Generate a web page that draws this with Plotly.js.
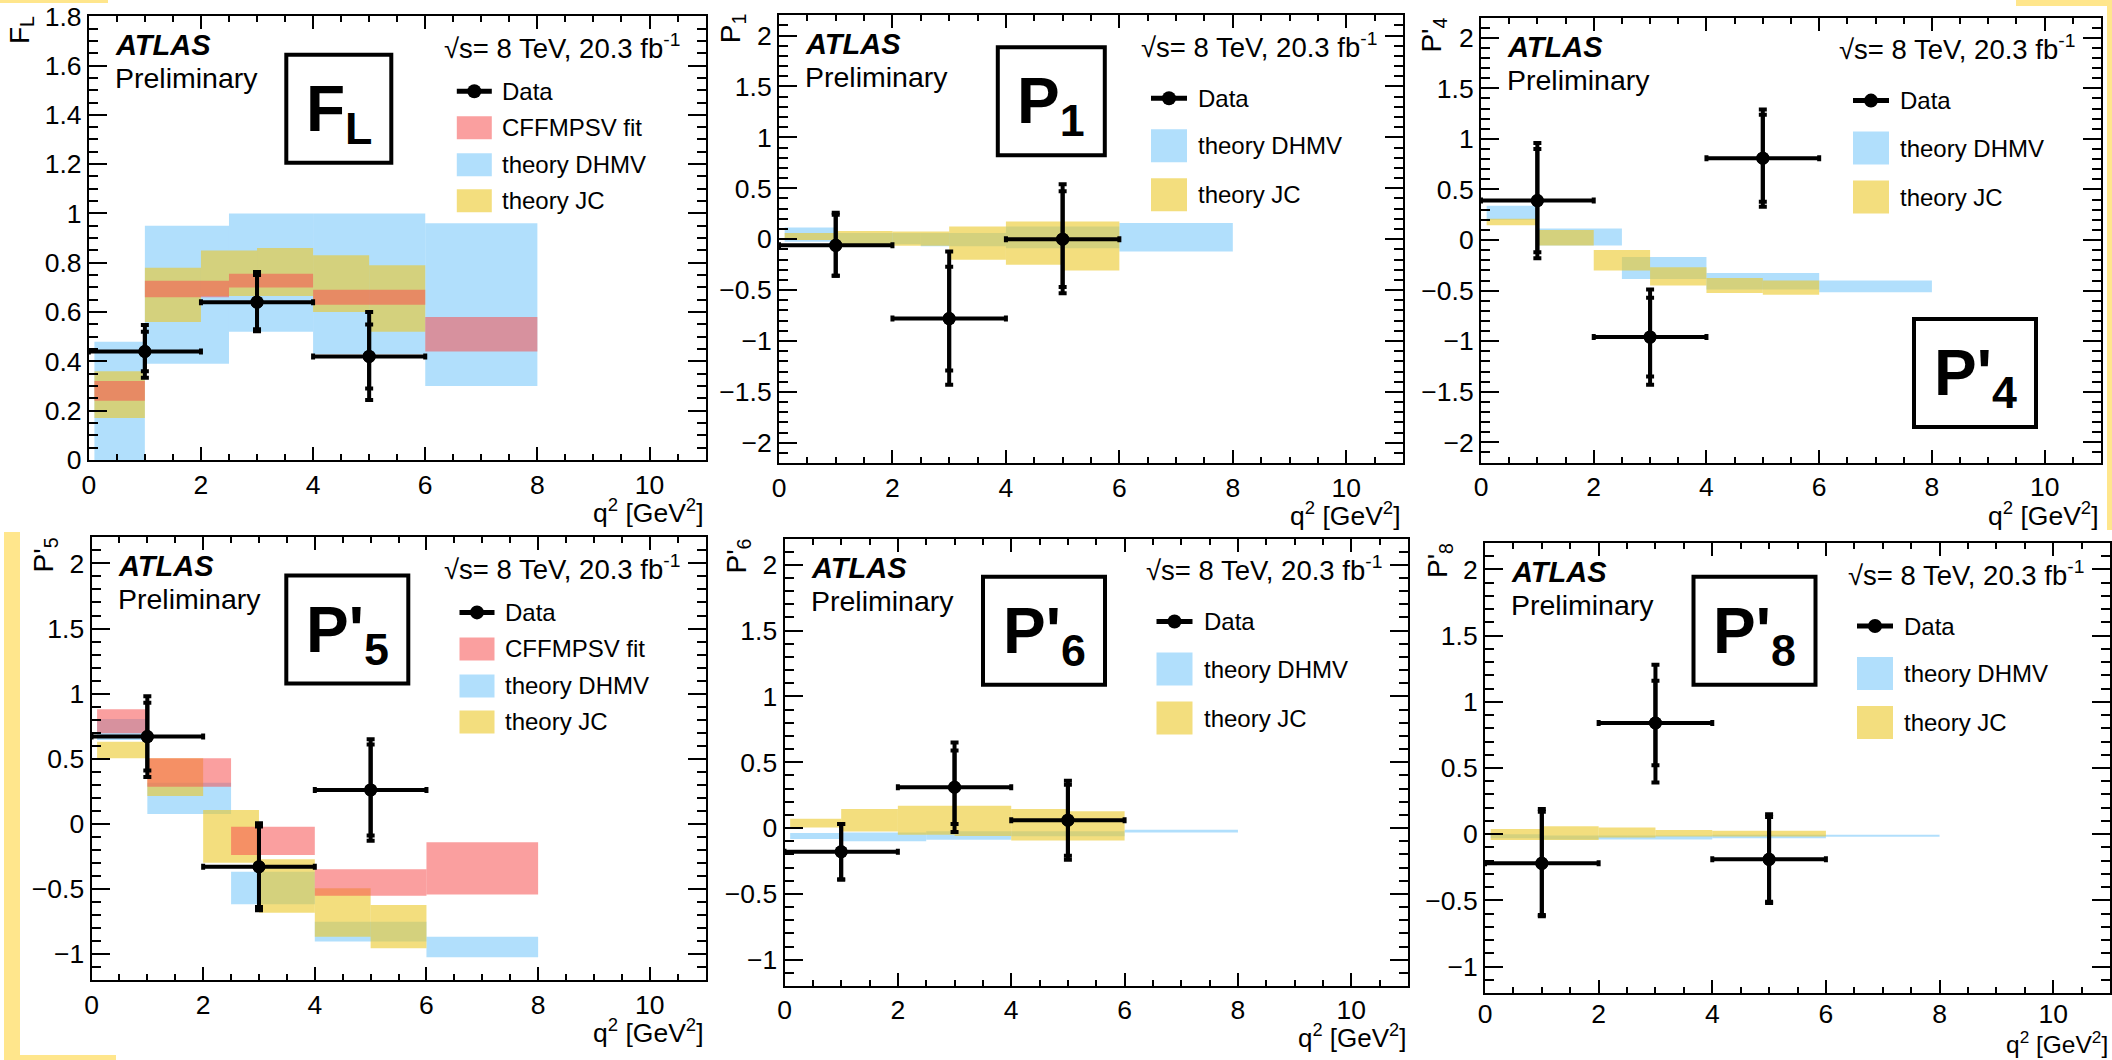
<!DOCTYPE html>
<html><head><meta charset="utf-8">
<script src="https://cdn.plot.ly/plotly-3.0.1.min.js"></script>
<style>html,body{margin:0;padding:0;background:#fff}</style>
</head><body><div id="chart" style="width:2112px;height:1060px"></div>
<script>
// ---------------- DATA ----------------
const xData = [1, 3, 5];
const xDataHalf = [1, 1, 1];
const binLoWide = [0.1, 1, 2.5, 4, 6];
const binHiWide = [1, 2.5, 4, 6, 8];
const binLoJC = [0.1, 1, 2, 3, 4, 5];
const binHiJC = [1, 2, 3, 4, 5, 6];

// F_L
const FL_val = [0.44, 0.64, 0.42];
const FL_totUp = [0.107, 0.122, 0.18];
const FL_totDn = [0.106, 0.118, 0.177];
const FL_stat = [0.08, 0.11, 0.13];
const FL_dhmvLo = [0, 0.39, 0.52, 0.43, 0.30];
const FL_dhmvHi = [0.48, 0.95, 1.0, 1.0, 0.96];
const FL_jcLo = [0.17, 0.56, 0.665, 0.665, 0.60, 0.52];
const FL_jcHi = [0.36, 0.78, 0.85, 0.86, 0.83, 0.79];
const FL_cffLo = [0.24, 0.66, 0.70, 0.63, 0.44];
const FL_cffHi = [0.32, 0.727, 0.755, 0.69, 0.58];

// P1
const P1_val = [-0.06, -0.78, 0.00];
const P1_totUp = [0.32, 0.66, 0.54];
const P1_totDn = [0.30, 0.65, 0.53];
const P1_stat = [0.30, 0.51, 0.47];
const P1_dhmvLo = [-0.026, -0.05, -0.07, -0.09, -0.12];
const P1_dhmvHi = [0.114, 0.06, 0.06, 0.124, 0.16];
const P1_jcLo = [-0.007, -0.056, -0.065, -0.203, -0.25, -0.308];
const P1_jcHi = [0.06, 0.081, 0.075, 0.124, 0.173, 0.173];

// P'4
const P4_val = [0.39, -0.96, 0.81];
const P4_totUp = [0.57, 0.47, 0.48];
const P4_totDn = [0.57, 0.47, 0.48];
const P4_stat = [0.51, 0.39, 0.43];
const P4_dhmvLo = [0.20, -0.055, -0.385, -0.49, -0.517];
const P4_dhmvHi = [0.34, 0.113, -0.167, -0.325, -0.40];
const P4_jcLo = [0.146, -0.055, -0.30, -0.45, -0.524, -0.54];
const P4_jcHi = [0.21, 0.10, -0.098, -0.27, -0.375, -0.40];

// P'5
const P5_val = [0.67, -0.33, 0.26];
const P5_totUp = [0.31, 0.335, 0.39];
const P5_totDn = [0.31, 0.335, 0.39];
const P5_stat = [0.26, 0.31, 0.35];
const P5_dhmvLo = [0.644, 0.075, -0.618, -0.905, -1.026];
const P5_dhmvHi = [0.805, 0.316, -0.368, -0.752, -0.867];
const P5_jcLo = [0.503, 0.213, -0.30, -0.683, -0.867, -0.957];
const P5_jcHi = [0.631, 0.503, 0.106, -0.273, -0.496, -0.624];
const P5_cffLo = [0.695, 0.285, -0.24, -0.552, -0.544];
const P5_cffHi = [0.879, 0.503, -0.022, -0.35, -0.142];

// P'6
const P6_val = [-0.18, 0.31, 0.06];
const P6_totUp = [0.21, 0.34, 0.30];
const P6_totDn = [0.21, 0.34, 0.30];
const P6_stat = [0.21, 0.28, 0.27];
const P6_dhmvLo = [-0.084, -0.10, -0.089, -0.063, -0.033];
const P6_dhmvHi = [-0.038, -0.033, -0.025, -0.025, -0.013];
const P6_jcLo = [0.005, -0.026, -0.051, -0.06, -0.094, -0.094];
const P6_jcHi = [0.071, 0.144, 0.169, 0.169, 0.144, 0.127];

// P'8
const P8_val = [-0.22, 0.84, -0.19];
const P8_totUp = [0.41, 0.44, 0.34];
const P8_totDn = [0.40, 0.45, 0.33];
const P8_stat = [0.39, 0.32, 0.32];
const P8_dhmvLo = [-0.03, -0.04, -0.04, -0.03, -0.02];
const P8_dhmvHi = [0.0, -0.01, -0.01, -0.005, -0.005];
const P8_jcLo = [-0.044, -0.044, -0.025, -0.018, -0.018, -0.018];
const P8_jcHi = [0.039, 0.06, 0.05, 0.032, 0.025, 0.025];

const legendNames = ['Data', 'CFFMPSV fit', 'theory DHMV', 'theory JC'];
const xTitle = 'q<sup>2</sup> [GeV<sup>2</sup>]';
const atlasText = '<b><i>ATLAS</i></b>';
const prelimText = 'Preliminary';
const energyText = '\u221As= 8 TeV, 20.3 fb<sup>-1</sup>';

// ---------------- STYLE / LAYOUT ----------------
const W = 2112, H = 1060;
const FONT = 'Liberation Sans, Arial, Helvetica, sans-serif';
const C_BLUE = 'rgba(135,206,250,0.65)';
const C_YEL = 'rgba(235,200,40,0.6)';
const C_RED = 'rgba(245,80,80,0.55)';

const panels = [
  {s:'', frame:[88.8,16.2,705.6,460], yr:[-1e-4,1.8001], dt:0.2, mdt:0.05, ytitle:'F<sub>L</sub>', ytx:-68, yty:14, xty:51, xts:26.5, xso:0,
   label:'<b>F<sub>L</sub></b>', box:[197.5,38.6,105,108],
   val:FL_val, up:FL_totUp, dn:FL_totDn, st:FL_stat, dLo:FL_dhmvLo, dHi:FL_dhmvHi, jLo:FL_jcLo, jHi:FL_jcHi, cLo:FL_cffLo, cHi:FL_cffHi},
  {s:'2', frame:[779,15.2,1403,463.2], yr:[-2.2,2.2], dt:0.5, mdt:0.1, ytitle:'P<sub>1</sub>', ytx:-47, yty:13, xty:51, xts:26.5, xso:0,
   label:'<b>P<sub>1</sub></b>', box:[218.8,32,107,108],
   val:P1_val, up:P1_totUp, dn:P1_totDn, st:P1_stat, dLo:P1_dhmvLo, dHi:P1_dhmvHi, jLo:P1_jcLo, jHi:P1_jcHi},
  {s:'3', frame:[1481,17.6,2101,462.5], yr:[-2.2,2.2], dt:0.5, mdt:0.1, ytitle:"P'<sub>4</sub>", ytx:-47, yty:18, xty:51, xts:26.5, xso:0,
   label:"<b>P'<sub>4</sub></b>", box:[433,301.4,122,108],
   val:P4_val, up:P4_totUp, dn:P4_totDn, st:P4_stat, dLo:P4_dhmvLo, dHi:P4_dhmvHi, jLo:P4_jcLo, jHi:P4_jcHi},
  {s:'4', frame:[91.5,537.4,705.6,980], yr:[-1.2,2.2], dt:0.5, mdt:0.1, ytitle:"P'<sub>5</sub>", ytx:-46.5, yty:18, xty:51, xts:26.5, xso:0,
   label:"<b>P'<sub>5</sub></b>", box:[194.8,38.2,122,108],
   val:P5_val, up:P5_totUp, dn:P5_totDn, st:P5_stat, dLo:P5_dhmvLo, dHi:P5_dhmvHi, jLo:P5_jcLo, jHi:P5_jcHi, cLo:P5_cffLo, cHi:P5_cffHi},
  {s:'5', frame:[784.5,538.5,1408,986], yr:[-1.2,2.2], dt:0.5, mdt:0.1, ytitle:"P'<sub>6</sub>", ytx:-46.5, yty:18, xty:50, xts:26, xso:-1,
   label:"<b>P'<sub>6</sub></b>", box:[198.5,38.2,122,108],
   val:P6_val, up:P6_totUp, dn:P6_totDn, st:P6_stat, dLo:P6_dhmvLo, dHi:P6_dhmvHi, jLo:P6_jcLo, jHi:P6_jcHi},
  {s:'6', frame:[1485,543,2110,993], yr:[-1.2,2.2], dt:0.5, mdt:0.1, ytitle:"P'<sub>8</sub>", ytx:-46, yty:18, xty:49, xts:24.5, xso:-4,
   label:"<b>P'<sub>8</sub></b>", box:[208.5,33.7,122,108],
   val:P8_val, up:P8_totUp, dn:P8_totDn, st:P8_stat, dLo:P8_dhmvLo, dHi:P8_dhmvHi, jLo:P8_jcLo, jHi:P8_jcHi}
];

const px = x => x / W;
const py = y => 1 - y / H;

function bandTrace(lo, hi, vLo, vHi, color, s) {
  return {
    type: 'bar', xaxis: 'x' + s, yaxis: 'y' + s,
    x: lo.map((l, i) => (l + hi[i]) / 2),
    width: lo.map((l, i) => hi[i] - l),
    base: vLo,
    y: vHi.map((h, i) => h - vLo[i]),
    marker: {color: color, line: {width: 0}},
    showlegend: false, hoverinfo: 'skip'
  };
}

const traces = [];
const annotations = [];
const shapes = [];
const layout = {
  width: W, height: H, margin: {l:0, r:0, t:0, b:0},
  paper_bgcolor: 'white', plot_bgcolor: 'rgba(0,0,0,0)',
  barmode: 'overlay', showlegend: false,
  font: {family: FONT, color: 'black', size: 25},
  annotations: annotations, shapes: shapes
};

function ann(o, size) {
  annotations.push(Object.assign({xref:'paper', yref:'paper', showarrow:false,
    font:{family:FONT, size:size, color:'black'}}, o));
}

panels.forEach(p => {
  const s = p.s;
  const [L, T, R, B] = p.frame;
  // bands
  traces.push(bandTrace(binLoWide, binHiWide, p.dLo, p.dHi, C_BLUE, s));
  traces.push(bandTrace(binLoJC, binHiJC, p.jLo, p.jHi, C_YEL, s));
  if (p.cLo) traces.push(bandTrace(binLoWide, binHiWide, p.cLo, p.cHi, C_RED, s));
  // data: total errors
  traces.push({
    type:'scatter', mode:'markers', xaxis:'x'+s, yaxis:'y'+s,
    x: xData, y: p.val, cliponaxis:false,
    marker:{color:'black', size:13},
    error_x:{type:'data', array:xDataHalf, color:'black', thickness:4, width:3},
    error_y:{type:'data', symmetric:false, array:p.up, arrayminus:p.dn, color:'black', thickness:4, width:4},
    showlegend:false, hoverinfo:'skip'
  });
  // data: stat-only ticks
  traces.push({
    type:'scatter', mode:'markers', xaxis:'x'+s, yaxis:'y'+s,
    x: xData, y: p.val, cliponaxis:false,
    marker:{color:'black', size:13},
    error_y:{type:'data', array:p.st, color:'black', thickness:4, width:4},
    showlegend:false, hoverinfo:'skip'
  });

  const axBase = {showline:true, linecolor:'black', linewidth:2, mirror:'allticks',
    ticks:'inside', tickcolor:'black', tickwidth:2, showgrid:false, zeroline:false,
    tickfont:{family:FONT, size:26.5, color:'black'}, fixedrange:true};
  layout['xaxis' + s] = Object.assign({}, axBase, {
    domain:[px(L), px(R)], range:[0, 11], anchor:'y'+s,
    tick0:0, dtick:2, ticklen:13, ticklabelstandoff:p.xso,
    minor:{ticks:'inside', ticklen:6, dtick:0.5, tick0:0, tickwidth:2, tickcolor:'black', showgrid:false}
  });
  layout['yaxis' + s] = Object.assign({}, axBase, {
    domain:[py(B), py(T)], range:p.yr, anchor:'x'+s,
    tick0:0, dtick:p.dt, ticklen:18,
    minor:{ticks:'inside', ticklen:9, dtick:p.mdt, tick0:0, tickwidth:2, tickcolor:'black', showgrid:false}
  });

  // texts
  ann({x:px(L+24), y:py(T+29), xanchor:'left', yanchor:'middle', text:atlasText}, 29);
  ann({x:px(L+24), y:py(T+62), xanchor:'left', yanchor:'middle', text:prelimText}, 28.5);
  ann({x:px(R-24), y:py(T+30), xanchor:'right', yanchor:'middle', text:energyText}, 27.5);
  ann({x:px(L+p.ytx), y:py(T+p.yty), xanchor:'center', yanchor:'middle', textangle:-90, text:p.ytitle}, 28);
  ann({x:px(R), y:py(B+p.xty), xanchor:'right', yanchor:'middle', text:xTitle}, p.xts);

  // label box
  const [bl, bt, bw, bh] = p.box;
  shapes.push({type:'rect', xref:'paper', yref:'paper', x0:px(L+bl), x1:px(L+bl+bw), y0:py(T+bt), y1:py(T+bt+bh),
    line:{color:'black', width:4}, fillcolor:'rgba(0,0,0,0)'});
  ann({x:px(L+bl+bw/2), y:py(T+bt+bh/2+4), xanchor:'center', yanchor:'middle', text:p.label}, 64);

  // legend
  const four = !!p.cLo;
  const sx0 = L + (four ? 368 : 372), sx1 = L + (four ? 403 : 408), tx = L + (four ? 411 : 417);
  const dataY = T + (four ? 75 : 83);
  shapes.push({type:'line', xref:'paper', yref:'paper', x0:px(sx0), x1:px(sx1), y0:py(dataY), y1:py(dataY), line:{color:'black', width:5}});
  const cx = (sx0 + sx1) / 2;
  shapes.push({type:'circle', xref:'paper', yref:'paper', x0:px(cx-7), x1:px(cx+7), y0:py(dataY-7), y1:py(dataY+7), fillcolor:'black', line:{color:'black', width:0}});
  ann({x:px(tx), y:py(dataY), xanchor:'left', yanchor:'middle', text:legendNames[0]}, 24);
  const items = four ? [[legendNames[1], C_RED], [legendNames[2], C_BLUE], [legendNames[3], C_YEL]]
                     : [[legendNames[2], C_BLUE], [legendNames[3], C_YEL]];
  const tops = four ? [100, 137, 173] : [114, 163];
  const bh2 = four ? 23 : 33;
  items.forEach((it, k) => {
    const y0 = T + tops[k];
    shapes.push({type:'rect', xref:'paper', yref:'paper', x0:px(sx0), x1:px(sx1), y0:py(y0), y1:py(y0+bh2), fillcolor:it[1], line:{width:0}});
    ann({x:px(tx), y:py(y0 + bh2/2), xanchor:'left', yanchor:'middle', text:it[0]}, 24);
  });
});

// decorative yellow edge strips present in the reference image
const C_EDGE = 'rgb(255,230,140)';
[[0,0,108,3],[2016,0,2112,6],[2107,0,2112,530],[4,532,20,1060],[4,1055,116,1060]].forEach(r => {
  shapes.push({type:'rect', xref:'paper', yref:'paper', x0:px(r[0]), x1:px(r[2]), y0:py(r[1]), y1:py(r[3]), fillcolor:C_EDGE, line:{width:0}, layer:'below'});
});

Plotly.newPlot('chart', traces, layout, {displayModeBar:false});
</script>
</body></html>
